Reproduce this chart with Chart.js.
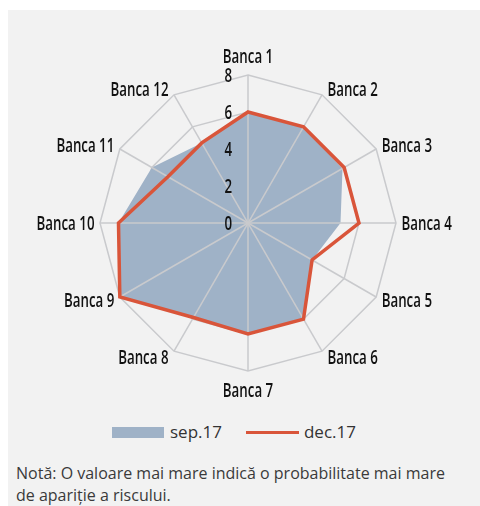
<!DOCTYPE html>
<html>
<head>
<meta charset="utf-8">
<script src="https://cdn.jsdelivr.net/npm/chart.js@4.4.1/dist/chart.umd.min.js"></script>
<style>
  body { margin: 0; background: #fff; width: 480px; height: 506px; overflow: hidden; font-family: 'Open Sans', sans-serif; }
  #panel { position: absolute; left: 8px; top: 10px; width: 472px; height: 496px; background: #f2f2f2; }
  #wrap { position: absolute; left: 0; top: 0; width: 472px; height: 400px; }
  #legend { position: absolute; top: 410px; left: 104px; display: flex; align-items: center; font-size: 17px; color: #333; line-height: 24px; }
  #legend .sw { display: inline-block; width: 52px; height: 11px; margin-right: 6px; }
  #legend .ln { display: inline-block; width: 53px; height: 3px; margin-left: 24px; margin-right: 5px; }
  #note { position: absolute; left: 8px; top: 452px; font-size: 16px; line-height: 22px; color: #3a3a3a; width: 436px; }
</style>
</head>
<body>
<div id="panel">
  <div id="wrap"><canvas id="radar"></canvas></div>
  <div id="legend"></div>
  <div id="note">Notă: O valoare mai mare indică o probabilitate mai mare de apariție a riscului.</div>
</div>
<script>
// bank categories and the two survey rounds
const banks = ['Banca 1', 'Banca 2', 'Banca 3', 'Banca 4', 'Banca 5', 'Banca 6',
               'Banca 7', 'Banca 8', 'Banca 9', 'Banca 10', 'Banca 11', 'Banca 12'];
const sep17 = [6, 6, 5.9, 5, 4, 6, 6, 5.9, 8, 7, 6, 5];
const dec17 = [6, 6, 6, 6, 4, 6, 6, 5.9, 8, 7, 5, 5];
const rTicks = [0, 2, 4, 6, 8];

const blue = '#9fb2c7';
const orange = '#d9553a';
const gridCol = '#c9cacd';
const labelFont = "600 19px 'Open Sans', sans-serif";
const squeeze = 0.7;   // condensed look for the axis text

function condensedText(ctx, text, x, y, align) {
  ctx.save();
  ctx.translate(x, y);
  ctx.scale(squeeze, 1);
  ctx.textAlign = align;
  ctx.fillText(text, 0, 0);
  ctx.restore();
}

// spokes sit above the filled area; labels and ticks above everything
const overlay = {
  id: 'overlay',
  afterDatasetDraw(chart, args) {
    if (args.index !== 0) return;
    const s = chart.scales.r, ctx = chart.ctx;
    ctx.save();
    ctx.strokeStyle = gridCol;
    ctx.lineWidth = 1.5;
    for (let i = 0; i < banks.length; i++) {
      const p = s.getPointPosition(i, s.drawingArea);
      ctx.beginPath();
      ctx.moveTo(s.xCenter, s.yCenter);
      ctx.lineTo(p.x, p.y);
      ctx.stroke();
    }
    ctx.restore();
  },
  afterDatasetsDraw(chart) {
    const s = chart.scales.r, ctx = chart.ctx;
    ctx.save();
    ctx.font = labelFont;
    ctx.fillStyle = '#111';
    ctx.textBaseline = 'alphabetic';
    const capH = 13.6;
    banks.forEach((name, i) => {
      const p = s.getPointPosition(i, s.drawingArea);
      const up = (s.yCenter - p.y) / s.drawingArea;     // cos of angle from top
      const side = (p.x - s.xCenter) / s.drawingArea;   // sin
      if (Math.abs(side) < 0.1) {
        if (up > 0) condensedText(ctx, name, p.x, p.y - 12.4, 'center');
        else condensedText(ctx, name, p.x, p.y + 12.3 + capH, 'center');
      } else {
        const y = p.y + capH / 2 - 7 * up;
        if (side > 0) condensedText(ctx, name, p.x + 5.5, y, 'left');
        else condensedText(ctx, name, p.x - 5.5, y, 'right');
      }
    });
    rTicks.forEach(v => {
      const y = s.yCenter - s.getDistanceFromCenterForValue(v) + capH / 2 + 0.5;
      condensedText(ctx, String(v), s.xCenter - 16, y, 'right');
    });
    ctx.restore();
  }
};

const chart = new Chart(document.getElementById('radar'), {
  type: 'radar',
  data: {
    labels: banks,
    datasets: [
      { label: 'sep.17', data: sep17, fill: true, backgroundColor: blue, borderWidth: 0, pointRadius: 0, order: 1 },
      { label: 'dec.17', data: dec17, fill: false, borderColor: orange, borderWidth: 3.5, pointRadius: 0, order: 0 }
    ]
  },
  options: {
    responsive: true,
    maintainAspectRatio: false,
    animation: false,
    layout: { padding: { left: 8, right: 0, top: 65, bottom: 39 } },
    plugins: { legend: { display: false }, tooltip: { enabled: false } },
    scales: {
      r: {
        min: 0,
        max: 8,
        ticks: { stepSize: 2, display: false },
        grid: { circular: false, color: gridCol, lineWidth: 1.5 },
        angleLines: { display: false },
        pointLabels: { display: false }
      }
    }
  },
  plugins: [overlay]
});

// legend built from the datasets
const legend = document.getElementById('legend');
chart.data.datasets.forEach((ds, i) => {
  const mark = document.createElement('span');
  mark.className = i === 0 ? 'sw' : 'ln';
  mark.style.background = i === 0 ? ds.backgroundColor : ds.borderColor;
  legend.appendChild(mark);
  const txt = document.createElement('span');
  txt.textContent = ds.label;
  legend.appendChild(txt);
});
</script>
</body>
</html>
